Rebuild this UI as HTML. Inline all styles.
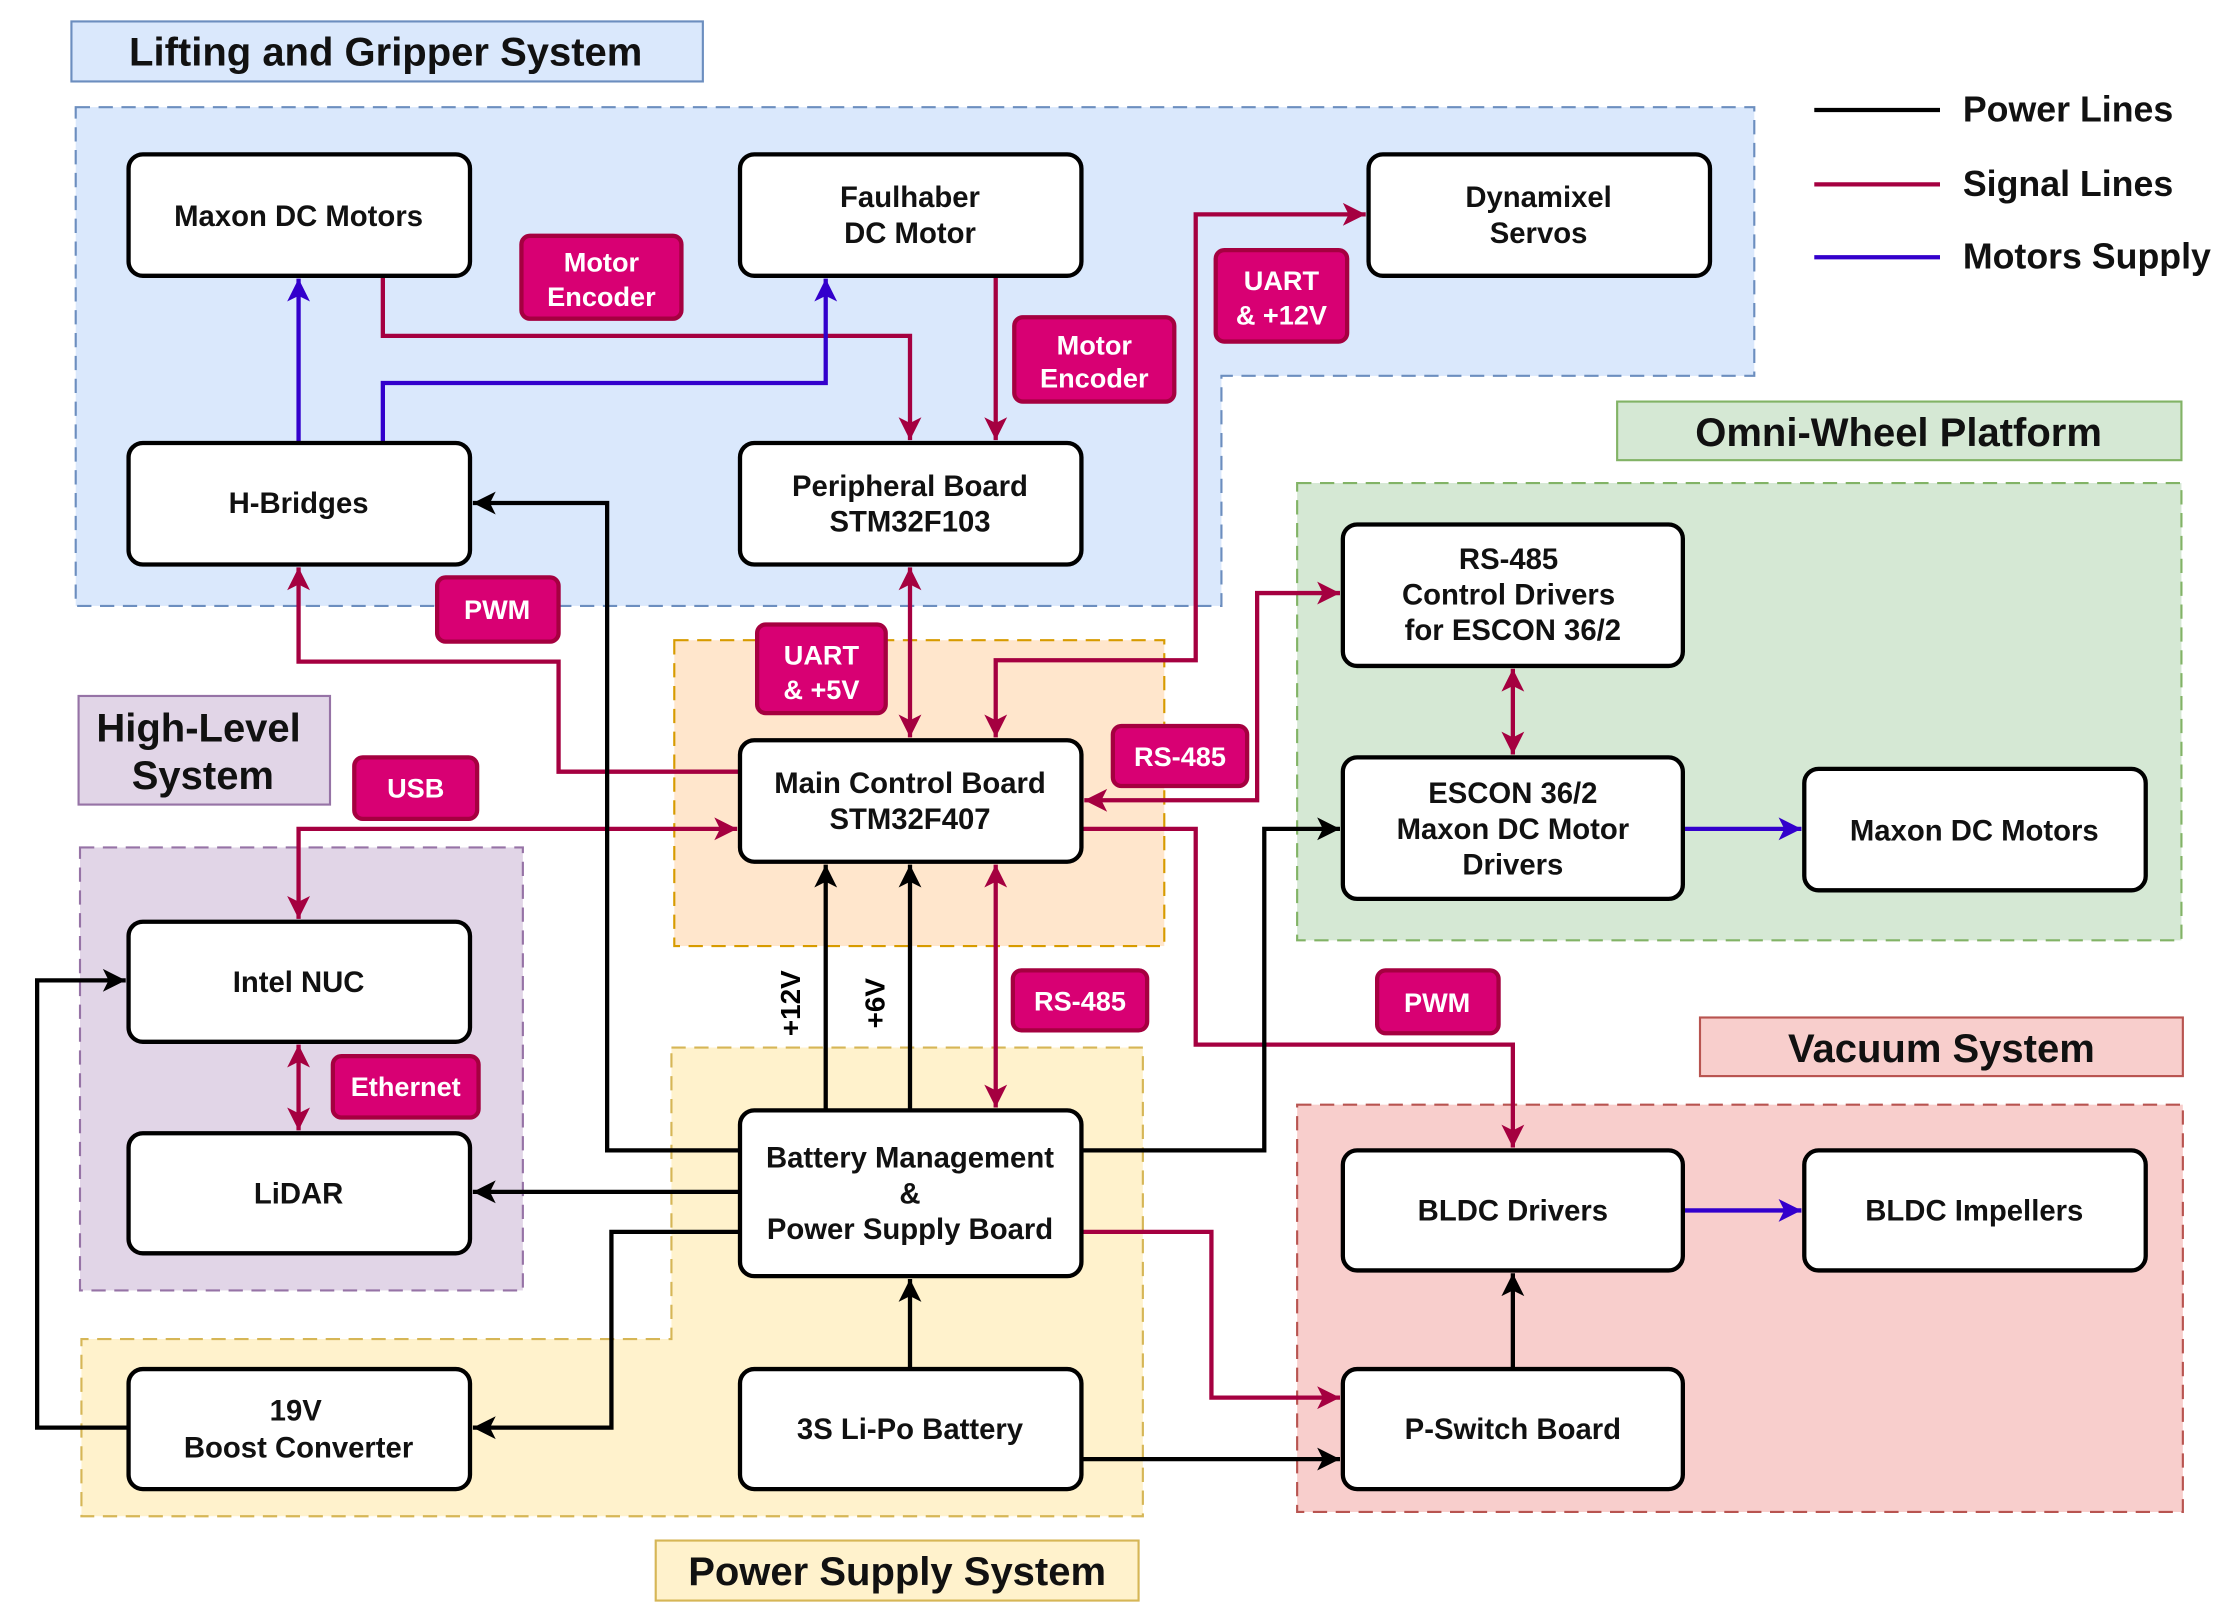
<!DOCTYPE html>
<html><head><meta charset="utf-8"><style>
html,body{margin:0;padding:0;background:#fff;}
svg{display:block;}
text{font-family:"Liberation Sans",sans-serif;}
.n{fill:#fff;stroke:#000;stroke-width:3;}
.nt{font-size:20.5px;font-weight:bold;text-anchor:middle;fill:#111;}
.lb{fill:#d80073;stroke:#a50040;stroke-width:3;}
.lt{font-size:19px;font-weight:bold;text-anchor:middle;fill:#fff;}
.tt{font-size:28px;font-weight:bold;text-anchor:middle;fill:#111;}
.s{fill:none;stroke:#a50040;stroke-width:3;}
.p{fill:none;stroke:#000;stroke-width:3;}
.b{fill:none;stroke:#3300cc;stroke-width:3;}
</style></head><body>
<svg width="2240" height="1622" viewBox="0 0 1568 1135" preserveAspectRatio="none" xmlns="http://www.w3.org/2000/svg">
<defs>
<marker id="as" markerUnits="userSpaceOnUse" markerWidth="20" markerHeight="20" refX="18" refY="10" orient="auto-start-reverse" viewBox="0 0 20 20"><path d="M18,10 L2,2 L6,10 L2,18 Z" fill="#a50040"/></marker>
<marker id="ap" markerUnits="userSpaceOnUse" markerWidth="20" markerHeight="20" refX="18" refY="10" orient="auto-start-reverse" viewBox="0 0 20 20"><path d="M18,10 L2,2 L6,10 L2,18 Z" fill="#000"/></marker>
<marker id="ab" markerUnits="userSpaceOnUse" markerWidth="20" markerHeight="20" refX="18" refY="10" orient="auto-start-reverse" viewBox="0 0 20 20"><path d="M18,10 L2,2 L6,10 L2,18 Z" fill="#3300cc"/></marker>
</defs>
<path d="M53,75 H1228 V263 H855 V424 H53 Z" fill="#dae8fc" stroke="#6c8ebf" stroke-width="1.5" stroke-dasharray="10,6"/>
<rect x="908" y="338" width="619" height="320" fill="#d5e8d4" stroke="#82b366" stroke-width="1.5" stroke-dasharray="10,6"/>
<rect x="56" y="593" width="310" height="310" fill="#e1d5e7" stroke="#9673a6" stroke-width="1.5" stroke-dasharray="10,6"/>
<path d="M470,733 H800 V1061 H57 V937 H470 Z" fill="#fff2cc" stroke="#d6b656" stroke-width="1.5" stroke-dasharray="10,6"/>
<rect x="472" y="448" width="343" height="214" fill="#ffe6cc" stroke="#d79b00" stroke-width="1.5" stroke-dasharray="10,6"/>
<rect x="908" y="773" width="620" height="285" fill="#f8cecc" stroke="#b85450" stroke-width="1.5" stroke-dasharray="10,6"/>
<rect x="50" y="15" width="442" height="42" fill="#dae8fc" stroke="#6c8ebf" stroke-width="1.5"/><text class="tt" x="270" y="46">Lifting and Gripper System</text>
<rect x="1132" y="281" width="395" height="41" fill="#d5e8d4" stroke="#82b366" stroke-width="1.5"/><text class="tt" x="1329" y="312">Omni-Wheel Platform</text>
<rect x="55" y="487" width="176" height="76" fill="#e1d5e7" stroke="#9673a6" stroke-width="1.5"/><text class="tt" x="139" y="519">High-Level</text><text class="tt" x="142" y="552">System</text>
<rect x="1190" y="712" width="338" height="41" fill="#f8cecc" stroke="#b85450" stroke-width="1.5"/><text class="tt" x="1359" y="743">Vacuum System</text>
<rect x="459" y="1078" width="338" height="42" fill="#fff2cc" stroke="#d6b656" stroke-width="1.5"/><text class="tt" x="628" y="1109">Power Supply System</text>
<line x1="1270" y1="77" x2="1358" y2="77" stroke="#000" stroke-width="3"/><text x="1374" y="85" font-size="25" font-weight="bold" fill="#111">Power Lines</text>
<line x1="1270" y1="129" x2="1358" y2="129" stroke="#a50040" stroke-width="3"/><text x="1374" y="137" font-size="25" font-weight="bold" fill="#111">Signal Lines</text>
<line x1="1270" y1="180" x2="1358" y2="180" stroke="#3300cc" stroke-width="3"/><text x="1374" y="188" font-size="25" font-weight="bold" fill="#111">Motors Supply</text>
<path class="s" d="M268,193 V235 H637 V308" marker-end="url(#as)"/>
<path class="s" d="M697,193 V308" marker-end="url(#as)"/>
<path class="s" d="M637,397 V516" marker-start="url(#as)" marker-end="url(#as)"/>
<path class="s" d="M697,516 V462 H837 V150 H956" marker-start="url(#as)" marker-end="url(#as)"/>
<path class="s" d="M518,540 H391 V463 H209 V397" marker-end="url(#as)"/>
<path class="s" d="M516,580 H209 V643" marker-start="url(#as)" marker-end="url(#as)"/>
<path class="s" d="M759,560 H880 V415 H938" marker-start="url(#as)" marker-end="url(#as)"/>
<path class="s" d="M1059,468 V528" marker-start="url(#as)" marker-end="url(#as)"/>
<path class="s" d="M697,605 V775" marker-start="url(#as)" marker-end="url(#as)"/>
<path class="s" d="M757,580 H837 V731 H1059 V803" marker-end="url(#as)"/>
<path class="s" d="M757,862 H848 V978 H938" marker-end="url(#as)"/>
<path class="s" d="M209,731 V791" marker-start="url(#as)" marker-end="url(#as)"/>
<path class="p" d="M578,777 V605" marker-end="url(#ap)"/>
<path class="p" d="M637,777 V605" marker-end="url(#ap)"/>
<path class="p" d="M518,805 H425 V352 H331" marker-end="url(#ap)"/>
<path class="p" d="M518,834 H331" marker-end="url(#ap)"/>
<path class="p" d="M518,862 H428 V999 H331" marker-end="url(#ap)"/>
<path class="p" d="M90,999 H26 V686 H88" marker-end="url(#ap)"/>
<path class="p" d="M757,805 H885 V580 H938" marker-end="url(#ap)"/>
<path class="p" d="M637,958 V895" marker-end="url(#ap)"/>
<path class="p" d="M757,1021 H938" marker-end="url(#ap)"/>
<path class="p" d="M1059,958 V891" marker-end="url(#ap)"/>
<path class="b" d="M209,310 V195" marker-end="url(#ab)"/>
<path class="b" d="M268,310 V268 H578 V195" marker-end="url(#ab)"/>
<path class="b" d="M1178,580 H1261" marker-end="url(#ab)"/>
<path class="b" d="M1178,847 H1261" marker-end="url(#ab)"/>
<text x="560" y="702" font-size="19.5" font-weight="bold" text-anchor="middle" transform="rotate(-90 560 702)">+12V</text>
<text x="619" y="702" font-size="19.5" font-weight="bold" text-anchor="middle" transform="rotate(-90 619 702)">+6V</text>
<rect class="n" x="90" y="108" width="239" height="85" rx="10"/><text class="nt" x="209" y="158">Maxon DC Motors</text>
<rect class="n" x="518" y="108" width="239" height="85" rx="10"/><text class="nt" x="637" y="145">Faulhaber</text><text class="nt" x="637" y="170">DC Motor</text>
<rect class="n" x="958" y="108" width="239" height="85" rx="10"/><text class="nt" x="1077" y="145">Dynamixel</text><text class="nt" x="1077" y="170">Servos</text>
<rect class="n" x="90" y="310" width="239" height="85" rx="10"/><text class="nt" x="209" y="359">H-Bridges</text>
<rect class="n" x="518" y="310" width="239" height="85" rx="10"/><text class="nt" x="637" y="347">Peripheral Board</text><text class="nt" x="637" y="372">STM32F103</text>
<rect class="n" x="940" y="367" width="238" height="99" rx="10"/><text class="nt" x="1056" y="398">RS-485</text><text class="nt" x="1056" y="423">Control Drivers</text><text class="nt" x="1059" y="448">for ESCON 36/2</text>
<rect class="n" x="940" y="530" width="238" height="99" rx="10"/><text class="nt" x="1059" y="562">ESCON 36/2</text><text class="nt" x="1059" y="587">Maxon DC Motor</text><text class="nt" x="1059" y="612">Drivers</text>
<rect class="n" x="1263" y="538" width="239" height="85" rx="10"/><text class="nt" x="1382" y="588">Maxon DC Motors</text>
<rect class="n" x="518" y="518" width="239" height="85" rx="10"/><text class="nt" x="637" y="555">Main Control Board</text><text class="nt" x="637" y="580">STM32F407</text>
<rect class="n" x="90" y="645" width="239" height="84" rx="10"/><text class="nt" x="209" y="694">Intel NUC</text>
<rect class="n" x="90" y="793" width="239" height="84" rx="10"/><text class="nt" x="209" y="842">LiDAR</text>
<rect class="n" x="518" y="777" width="239" height="116" rx="10"/><text class="nt" x="637" y="817">Battery Management</text><text class="nt" x="637" y="842">&amp;</text><text class="nt" x="637" y="867">Power Supply Board</text>
<rect class="n" x="940" y="805" width="238" height="84" rx="10"/><text class="nt" x="1059" y="854">BLDC Drivers</text>
<rect class="n" x="1263" y="805" width="239" height="84" rx="10"/><text class="nt" x="1382" y="854">BLDC Impellers</text>
<rect class="n" x="90" y="958" width="239" height="84" rx="10"/><text class="nt" x="207" y="994">19V</text><text class="nt" x="209" y="1020">Boost Converter</text>
<rect class="n" x="518" y="958" width="239" height="84" rx="10"/><text class="nt" x="637" y="1007">3S Li-Po Battery</text>
<rect class="n" x="940" y="958" width="238" height="84" rx="10"/><text class="nt" x="1059" y="1007">P-Switch Board</text>
<rect class="lb" x="365" y="165" width="112" height="58" rx="6"/><text class="lt" x="421" y="190">Motor</text><text class="lt" x="421" y="214">Encoder</text>
<rect class="lb" x="710" y="222" width="112" height="59" rx="6"/><text class="lt" x="766" y="248">Motor</text><text class="lt" x="766" y="271">Encoder</text>
<rect class="lb" x="851" y="175" width="92" height="64" rx="6"/><text class="lt" x="897" y="203">UART</text><text class="lt" x="897" y="227">&amp; +12V</text>
<rect class="lb" x="306" y="404" width="85" height="45" rx="6"/><text class="lt" x="348" y="433">PWM</text>
<rect class="lb" x="530" y="437" width="90" height="62" rx="6"/><text class="lt" x="575" y="465">UART</text><text class="lt" x="575" y="489">&amp; +5V</text>
<rect class="lb" x="779" y="508" width="94" height="42" rx="6"/><text class="lt" x="826" y="536">RS-485</text>
<rect class="lb" x="248" y="530" width="86" height="43" rx="6"/><text class="lt" x="291" y="558">USB</text>
<rect class="lb" x="709" y="679" width="94" height="42" rx="6"/><text class="lt" x="756" y="707">RS-485</text>
<rect class="lb" x="964" y="679" width="85" height="44" rx="6"/><text class="lt" x="1006" y="708">PWM</text>
<rect class="lb" x="233" y="739" width="102" height="43" rx="6"/><text class="lt" x="284" y="767">Ethernet</text>
</svg>
</body></html>
